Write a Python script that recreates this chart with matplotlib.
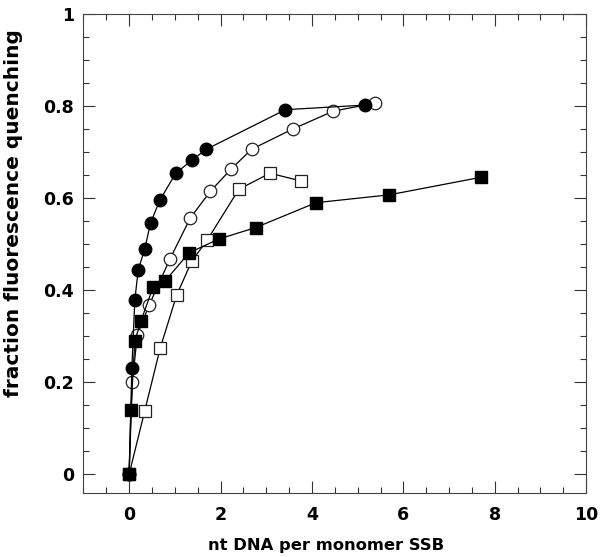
import matplotlib
matplotlib.use("Agg")
import matplotlib.pyplot as plt
from matplotlib.ticker import MultipleLocator

plt.rcParams['font.family'] = ['DejaVu Sans']
plt.rcParams['font.weight'] = 'bold'
plt.rcParams['font.size'] = 12.5

# filled circles
fc_x = [0, 0.06, 0.125, 0.2, 0.34, 0.47, 0.67, 1.02, 1.37, 1.69, 3.42, 5.16]
fc_y = [0, 0.23, 0.379, 0.444, 0.489, 0.546, 0.595, 0.654, 0.682, 0.706, 0.792, 0.802]

# open circles
oc_x = [0, 0.07, 0.18, 0.44, 0.89, 1.34, 1.78, 2.23, 2.68, 3.58, 4.47, 5.38]
oc_y = [0, 0.20, 0.303, 0.368, 0.467, 0.557, 0.615, 0.663, 0.706, 0.750, 0.789, 0.806]

# open squares
os_x = [0, 0.34, 0.68, 1.04, 1.37, 1.71, 2.40, 3.08, 3.77]
os_y = [0, 0.137, 0.274, 0.389, 0.463, 0.509, 0.619, 0.654, 0.637]

# filled squares
fs_x = [0, 0.04, 0.125, 0.256, 0.525, 0.78, 1.31, 1.96, 2.77, 4.09, 5.69, 7.69]
fs_y = [0, 0.139, 0.29, 0.332, 0.407, 0.419, 0.481, 0.511, 0.536, 0.590, 0.607, 0.645]

x_ticks = [0, 2, 4, 6, 8, 10]
y_ticks = [0, 0.2, 0.4, 0.6, 0.8, 1]
y_tick_labels = ["0", "0.2", "0.4", "0.6", "0.8", "1"]

fig = plt.figure(figsize=(6.0, 5.57), dpi=100)
ax = fig.add_axes([0.139, 0.1154, 0.977 - 0.139, 0.975 - 0.1154])

lw = 0.9
ax.plot(os_x, os_y, 's-', color='black', lw=lw, markersize=8.5,
        markerfacecolor='white', markeredgecolor='#222222', markeredgewidth=0.9, zorder=2)
ax.plot(oc_x, oc_y, 'o-', color='black', lw=lw, markersize=9,
        markerfacecolor='white', markeredgecolor='#222222', markeredgewidth=0.9, zorder=3)
ax.plot(fs_x, fs_y, 's-', color='black', lw=lw, markersize=8.5,
        markerfacecolor='black', markeredgecolor='black', zorder=4)
ax.plot(fc_x, fc_y, 'o-', color='black', lw=lw, markersize=9,
        markerfacecolor='black', markeredgecolor='black', zorder=5)

ax.set_xlim(-1, 10)
ax.set_ylim(-0.04, 1)
ax.set_xticks(x_ticks)
ax.set_yticks(y_ticks)
ax.set_yticklabels(y_tick_labels)
ax.xaxis.set_minor_locator(MultipleLocator(0.5))
ax.yaxis.set_minor_locator(MultipleLocator(0.05))

ax.tick_params(which='both', direction='in', top=True, right=True,
               color='#333333', width=0.8)
ax.tick_params(which='major', length=8.5)
ax.tick_params(which='minor', length=4.5)
ax.tick_params(axis='x', which='major', pad=9.5)
ax.tick_params(axis='y', which='major', pad=6.7)
for s in ax.spines.values():
    s.set_color('#444444')
    s.set_linewidth(0.8)

ax.set_xlabel("nt DNA per monomer SSB", fontweight='bold', fontsize=11.8)
ax.set_ylabel("fraction fluorescence quenching", fontweight='bold', fontsize=14.5)
ax.xaxis.set_label_coords(0.483, -0.0953)
ax.yaxis.set_label_coords(-0.12, 0.584)

plt.savefig("out.png", dpi=100)
